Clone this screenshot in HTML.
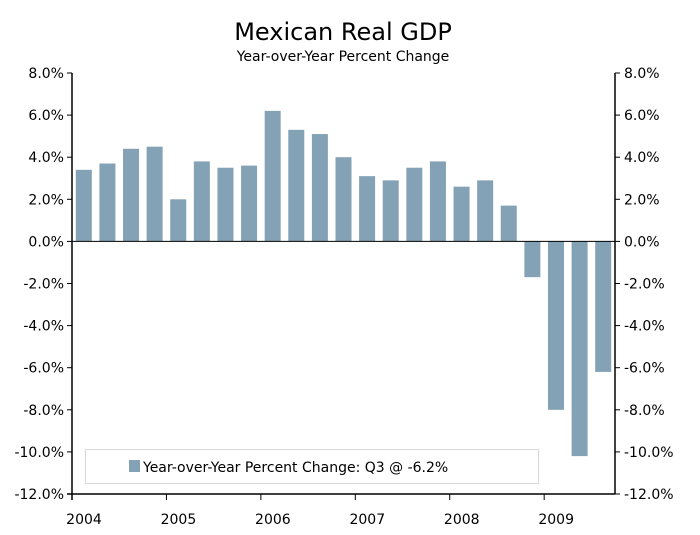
<!DOCTYPE html>
<html><head><meta charset="utf-8">
<style>
body{margin:0;background:#fff;}
svg{display:block;font-family:"DejaVu Sans","Liberation Sans",sans-serif;}
</style></head>
<body>
<svg id="chart" width="700" height="535" xmlns="http://www.w3.org/2000/svg">
<text x="343" y="40" text-anchor="middle" font-size="24" fill="#000">Mexican Real GDP</text>
<text x="343" y="61" text-anchor="middle" font-size="14" fill="#000">Year-over-Year Percent Change</text>
<g id="grid"></g>
<g id="bars"></g>
<g id="axes"></g>
<g>
<rect x="85.5" y="449.5" width="453" height="34" fill="#fff" stroke="#d8d8d8"/>
<rect x="129" y="460" width="11" height="12" fill="#84a2b5"/>
<text x="143" y="472" font-size="14" fill="#000">Year-over-Year Percent Change: Q3 @ -6.2%</text>
</g>
</svg>
<script>
const quarters = ["2004Q1","2004Q2","2004Q3","2004Q4","2005Q1","2005Q2","2005Q3","2005Q4","2006Q1","2006Q2","2006Q3","2006Q4","2007Q1","2007Q2","2007Q3","2007Q4","2008Q1","2008Q2","2008Q3","2008Q4","2009Q1","2009Q2","2009Q3"];
const growth = [3.4,3.7,4.4,4.5,2.0,3.8,3.5,3.6,6.2,5.3,5.1,4.0,3.1,2.9,3.5,3.8,2.6,2.9,1.7,-1.7,-8.0,-10.2,-6.2];
const yTicks = [8,6,4,2,0,-2,-4,-6,-8,-10,-12];
const years = ["2004","2005","2006","2007","2008","2009"];

const NS="http://www.w3.org/2000/svg";
const X0=72, X1=615, Y8=73, Y12=494;
const qw=(X1-X0)/23;
function y(v){return Y8+(8-v)*(Y12-Y8)/20;}
function xq(i){return X0+qw*(i+0.5);}
function mk(tag,attrs,parent){const e=document.createElementNS(NS,tag);for(const k in attrs)e.setAttribute(k,attrs[k]);parent.appendChild(e);return e;}
const bars=document.getElementById('bars'), axes=document.getElementById('axes');
growth.forEach((v,i)=>{
  const r=mk('rect',{x:xq(i)-8,y:Math.min(y(v),y(0)),width:16,height:Math.abs(y(v)-y(0)),fill:'#84a2b5'},bars);
  
  
});
mk('line',{x1:X0,x2:X1,y1:y(0),y2:y(0),stroke:'#000','stroke-width':1},axes);
mk('line',{x1:X0,x2:X0,y1:Y8,y2:Y12+6,stroke:'#000','stroke-width':1.5},axes);
mk('line',{x1:X1,x2:X1,y1:Y8,y2:Y12,stroke:'#000','stroke-width':1.5},axes);
mk('line',{x1:X0-5,x2:X1,y1:Y12,y2:Y12,stroke:'#000','stroke-width':1.5},axes);
yTicks.forEach(t=>{
  const yy=y(t);
  mk('line',{x1:X0-5,x2:X0,y1:yy,y2:yy,stroke:'#000'},axes);
  mk('line',{x1:X1,x2:X1+5,y1:yy,y2:yy,stroke:'#000'},axes);
  const l=mk('text',{x:X0-8,y:yy+5,'text-anchor':'end','font-size':14},axes);
  l.textContent=t.toFixed(1)+'%';
  
  
  const r=mk('text',{x:X1+9,y:yy+5,'text-anchor':'start','font-size':14},axes);
  r.textContent=t.toFixed(1)+'%';
  
  
});
years.forEach((yr,i)=>{
  const xx=X0+qw*4*i;
  mk('line',{x1:xx,x2:xx,y1:Y12,y2:Y12+6,stroke:'#000'},axes);
  const l=mk('text',{x:xx+12,y:Y12+30,'text-anchor':'middle','font-size':14},axes);
  l.textContent=yr;
  
  
});
</script>
</body></html>
